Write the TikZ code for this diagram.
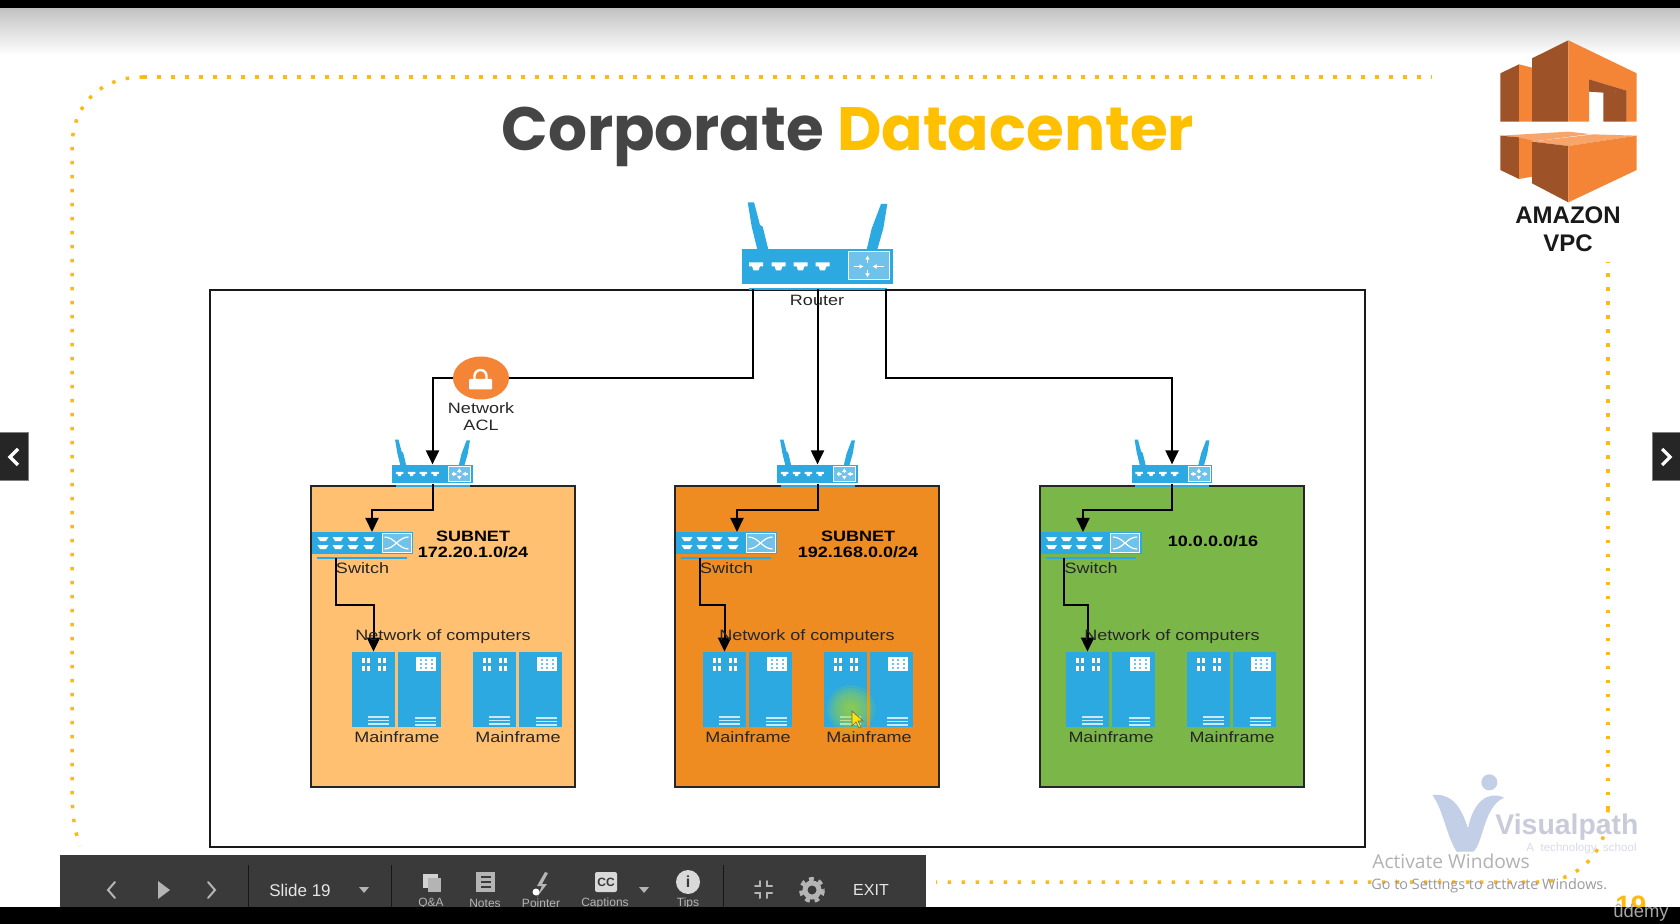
\documentclass[tikz,border=0pt]{standalone}
\usepackage{fontspec}
\setmainfont{Liberation Sans}
\newfontfamily\titlefont{Poppins}
\newfontfamily\winfont{Open Sans}
\usetikzlibrary{calc}
\usetikzlibrary{arrows.meta}
\usetikzlibrary{shapes.geometric}

\definecolor{netblue}{HTML}{2DA9E1}
\definecolor{panelblue}{HTML}{6FC2EA}
\definecolor{boxA}{HTML}{FFC171}
\definecolor{boxB}{HTML}{EE8C22}
\definecolor{boxC}{HTML}{7AB648}
\definecolor{awsdark}{HTML}{9D5227}
\definecolor{awslight}{HTML}{F58536}
\definecolor{awstop}{HTML}{F8A56B}
\definecolor{dotyellow}{HTML}{FDBA12}
\definecolor{ttlyellow}{HTML}{FFC000}
\definecolor{ttlgrey}{HTML}{454545}
\definecolor{barbg}{HTML}{3A3A3A}
\definecolor{baricon}{HTML}{B4B4B4}
\definecolor{vpshape}{HTML}{C3CFE6}
\definecolor{vptext}{HTML}{C9CBDB}
\definecolor{vpsub}{HTML}{D8DCEB}

\newcommand{\portshape}[3]{
    \fill[white] (#1-#3,#2-4) -- (#1+#3,#2-4) -- (#1+#3,#2) -- (#1+0.55*#3,#2) -- (#1+0.35*#3,#2+4) -- (#1-0.35*#3,#2+4) -- (#1-0.55*#3,#2) -- (#1-#3,#2) -- cycle;
}

\tikzset{
    wire/.style={draw=black,line width=1pt},
    wirearrow/.style={wire,-{Triangle[length=7pt,width=6.5pt]}},
    lbl/.style={font=\fontsize{7.5}{8.5}\selectfont,text=black!85,inner sep=0pt,align=center,xscale=1.2,transform shape},
    boldlbl/.style={lbl,font=\fontsize{7.5}{8}\selectfont\bfseries,text=black},
    groupbox/.style={draw=black!85,line width=1pt},
    bluebody/.style={fill=netblue,inner sep=0pt,transform shape},
    dotline/.style={draw=dotyellow,line width=1.75pt,dash pattern=on 1.75pt off 5.25pt},
    barlabel/.style={font=\fontsize{6}{7}\selectfont,text=baricon,inner sep=0pt},
    barrule/.style={draw=black!60!barbg,line width=0.5pt},
    baricn/.style={draw=baricon,line width=1pt,line cap=round},
    navbox/.style={fill=black!85,draw=black!50,line width=0.5pt},
    navmark/.style={draw=white,line width=1.6pt},
    router/.pic={
        \fill[netblue] (-69.8,-64.2) -- (-63.5,-64.2) -- (-57.5,-41.5) -- (-54.8,-39.8) -- (-49.2,-17) -- (-60.2,-17) -- (-65.8,-39.8) -- cycle;
        \fill[netblue] (63.5,-62.5) -- (69.8,-62.5) -- (65.8,-38) -- (59.8,-17) -- (49.2,-17) -- (54.2,-38) -- cycle;
        \node[bluebody,minimum width=75.5pt,minimum height=17.5pt] (-body) at (0,0) {};
        \portshape{-61.5}{0}{7}
        \portshape{-39}{0}{7}
        \portshape{-17}{0}{7}
        \portshape{5}{0}{7}
        \draw[white,fill=panelblue,line width=0.5pt] (30.5,-14.5) rectangle (71.5,13.5);
        \draw[white,line width=0.8pt,-{Latex[length=2pt,width=2.5pt]}] (50,-3.5) -- (50,-11);
        \draw[white,line width=0.8pt,-{Latex[length=2pt,width=2.5pt]}] (50,3.5) -- (50,11);
        \draw[white,line width=0.8pt,-{Latex[length=2pt,width=2.5pt]}] (36,0) -- (46,0);
        \draw[white,line width=0.8pt,-{Latex[length=2pt,width=2.5pt]}] (66,0) -- (55,0);
        \draw[netblue,line width=1pt] (-68.5,22.5) -- (69.5,22.5);
        \coordinate (-base) at (0,22.5);
    },
    switchbox/.pic={
        \node[bluebody,minimum width=50.5pt,minimum height=11pt] (-body) at (0,0) {};
        \foreach \px in {-39.5,-24.5,-9.5,6.5}{
            \fill[white] (\px-5.5,-6) -- (\px+5.5,-6) -- (\px+3,-2) -- (\px-3,-2) -- cycle;
            \fill[white] (\px-5.5,2) -- (\px+5.5,2) -- (\px+3,6) -- (\px-3,6) -- cycle;
        }
        \draw[white,fill=panelblue,line width=0.5pt] (19.5,-9) rectangle (48.5,9);
        \draw[white,line width=0.6pt] (22,-6) .. controls (32,-6) and (36,6) .. (46,6);
        \draw[white,line width=0.6pt] (22,6) .. controls (32,6) and (36,-6) .. (46,-6);
        \draw[netblue,line width=0.8pt] (-45.5,15) -- (44.5,15);
    },
    mainframe/.pic={
        \node[bluebody,minimum width=21.5pt,minimum height=37.5pt] (-a) at (21.5,37.5) {};
        \node[bluebody,minimum width=21.5pt,minimum height=37.5pt] (-b) at (67.5,37.5) {};
        \foreach \dx in {11,16,27,32}{
            \foreach \dy in {5.5,13.5}{
                \fill[white] (\dx-1.5,\dy) rectangle (\dx+1.5,\dy+5);
            }
        }
        \fill[white] (64,5) rectangle (84,19);
        \foreach \dx in {68.5,74,79.5}{
            \foreach \dy in {8,12,16}{
                \fill[panelblue] (\dx-1,\dy-1) rectangle (\dx+1,\dy+1);
            }
        }
        \foreach \dy in {65,68.5,72}{
            \fill[white!75!netblue] (16,\dy-1) rectangle (37,\dy+0.7);
            \fill[white!75!netblue] (63,\dy) rectangle (84,\dy+1.7);
        }
    }
}

\begin{document}
\begin{tikzpicture}[x=0.5pt,y=-0.5pt]
    \useasboundingbox (0,0) rectangle (1680,924);
    \fill[white] (0,0) rectangle (1680,924);
    \foreach \g in {0,...,46}{
        \pgfmathsetmacro{\gv}{24*(1-\g/47)}
        \fill[black!\gv] (0,8+\g) rectangle (1680,9.5+\g);
    }
    \fill[black] (0,0) rectangle (1680,8);

    \draw[dotline] (143,77) -- (1432,77);
    \draw[dotline] (143,77) .. controls (100,77) and (72,105) .. (72,148) -- (72,790) .. controls (72,810) and (74,830) .. (80,846);
    \draw[dotline] (1608,809) -- (1608,262);
    \draw[dotline] (1608,809) .. controls (1608,850) and (1580,882) .. (1538,882) -- (936,882);

    \node[anchor=base west,inner sep=0pt,font=\titlefont\fontsize{30.6}{36}\selectfont\bfseries,text=ttlgrey] (ttl) at (501,151) {Corporate \textcolor{ttlyellow}{Datacenter}};

    \begin{scope}[shift={(1440,20)},x=0.16667pt,y=-0.16667pt]
        \fill[awsdark] (181,160) -- (237,133) -- (237,305) -- (181,305) -- cycle;
        \fill[awslight] (237,133) -- (276,143) -- (276,305) -- (237,305) -- cycle;
        \fill[awsdark] (276,115) -- (385,61) -- (385,305) -- (276,305) -- cycle;
        \fill[awslight] (385,61) -- (590,160) -- (590,305) -- (560,305) -- (560,212) -- (447,178) -- (447,305) -- (385,305) -- cycle;
        \fill[awsdark] (447,178) -- (560,212) -- (490,218) -- (447,215) -- cycle;
        \fill[awsdark] (490,216) -- (560,212) -- (560,305) -- (490,305) -- cycle;
        \fill[awstop] (181,347) -- (385,335) -- (450,342) -- (276,365) -- (237,352) -- cycle;
        \fill[awsdark] (181,347) -- (237,352) -- (237,477) -- (181,450) -- cycle;
        \fill[awslight] (237,352) -- (276,362) -- (276,470) -- (237,477) -- cycle;
        \fill[awstop] (276,365) -- (460,343) -- (590,347) -- (385,378) -- cycle;
        \fill[awsdark] (276,365) -- (385,378) -- (385,547) -- (276,490) -- cycle;
        \fill[awslight] (385,378) -- (590,347) -- (590,450) -- (385,547) -- cycle;
    \end{scope}
    \node[font=\fontsize{12}{14}\selectfont\bfseries,text=black!90,inner sep=0pt] (vpcA) at (1568,215) {AMAZON};
    \node[font=\fontsize{12}{14}\selectfont\bfseries,text=black!90,inner sep=0pt] (vpcB) at (1568,243) {VPC};

    \begin{scope}[shift={(1340,760)},x=0.16667pt,y=-0.16667pt]
        \fill[vpshape] (277,105) .. controls (320,100) and (360,120) .. (385,210) .. controls (390,250) and (380,275) .. (350,275) .. controls (320,230) and (310,150) .. (277,105) -- cycle;
        \fill[vpshape] (492,113) .. controls (440,90) and (400,130) .. (385,200) .. controls (375,250) and (365,265) .. (350,275) -- (400,275) .. controls (430,250) and (430,140) .. (492,113) -- cycle;
        \fill[vpshape] (448,67) circle (24);
    \end{scope}
    \node[anchor=base west,inner sep=0pt,font=\fontsize{14.2}{16}\selectfont\bfseries,text=vptext] (vpath) at (1495,834) {Visualpath};
    \node[anchor=base east,inner sep=0pt,font=\fontsize{5.8}{6}\selectfont,text=vpsub] (vpathsub) at (1637,851) {A\ \ technology\ \ school};

    \draw[groupbox,fill=white,draw=black!90] (210,290.5) rectangle (1365,847);

    \foreach \nm/\bx/\rx/\sx/\mx/\ax/\ox/\clr in {A/311/432.5/362.5/352/372/336/boxA,B/675/817.5/726.5/703/737/700/boxB,C/1040/1172/1091/1066/1083/1064/boxC}{
        \draw[groupbox,fill=\clr] (\bx,486) rectangle (\bx+264,787);
        \pic[scale=0.536] (rt\nm) at (\rx,474) {router};
        \pic (sw\nm) at (\sx,543) {switchbox};
        \pic (mf\nm) at (\mx,652) {mainframe};
        \pic (mg\nm) at (\mx+121,652) {mainframe};
        \coordinate (in\nm) at (\ax,532);
        \coordinate (tap\nm) at (\ox,558);
        \draw[wirearrow] (rt\nm-body.south) -- ++(0,26) -| (in\nm);
        \draw[wirearrow] (tap\nm) -- ++(0,47) -| (mf\nm-a.north);
        \node[lbl] (sl\nm) at (\sx,568) {Switch};
        \node[lbl] (nc\nm) at (\bx+132,636.5) {Network of computers};
        \node[lbl] (ml\nm) at (\mx+45,737) {Mainframe};
        \node[lbl] (mk\nm) at (\mx+166,737) {Mainframe};
    }
    \node[boldlbl] (snA) at (473,544) {SUBNET\\172.20.1.0/24};
    \node[boldlbl] (snB) at (858,544) {SUBNET\\192.168.0.0/24};
    \node[boldlbl] (snC) at (1213,541) {10.0.0.0/16};

    \pic (rtMain) at (817.5,266.5) {router};
    \node[ellipse,fill=awslight,inner sep=0pt,minimum width=28pt,minimum height=21.5pt] (acl) at (481,378) {};
    \draw[white,line width=1.2pt] (474.5,380) -- (474.5,376) arc (180:360:6) -- (486.5,380);
    \fill[white,rounded corners=0.5pt] (469,379) rectangle (492,389.5);
    \node[lbl] (aclt) at (481,417) {Network\\ACL};

    \coordinate (turnC) at (1172,378);
    \draw[wire] ($(rtMain-base)+(-64.5,0)$) |- (acl.east);
    \draw[wirearrow] (acl.west) -| (rtA-body.north);
    \draw[wirearrow] (rtMain-base) -- (rtB-body.north);
    \draw[wirearrow] ($(rtMain-base)+(68.5,0)$) |- (turnC) -- (rtC-body.north);
    \node[lbl] (rtlbl) at (817,300.5) {Router};

    \foreach \r in {24,21,...,6}{
        \fill[yellow!70!green,opacity=0.14] (851,709) circle (\r);
    }
    \draw[black!60,fill=yellow!85!orange,line width=0.3pt] (852,711) -- (852,726) -- (856,722) -- (859,728) -- (861,727) -- (858,721) -- (863,721) -- cycle;

    \node[anchor=base west,inner sep=0pt,font=\winfont\fontsize{9.6}{12}\selectfont,text=black!30] (actA) at (1372,868) {Activate Windows};
    \node[anchor=base west,inner sep=0pt,font=\winfont\fontsize{7.2}{9}\selectfont,text=black!40] (actB) at (1371,889) {Go to Settings to activate Windows.};

    \node[anchor=base west,inner sep=0pt,font=\fontsize{14}{16}\selectfont\bfseries,text=dotyellow] (pagenum) at (1615,915) {19};

    \fill[barbg] (60,855) rectangle (926,907);
    \foreach \sx in {248,391,723}{
        \draw[barrule] (\sx,865) -- (\sx,907);
    }
    \draw[baricn] (115,882) -- (108,890) -- (115,898);
    \fill[baricon] (158,881) -- (170,890) -- (158,899) -- cycle;
    \draw[baricn] (208,882) -- (215,890) -- (208,898);
    \node[font=\fontsize{8.5}{10}\selectfont,text=black!10,inner sep=0pt] (slidenum) at (300,890) {Slide 19};
    \fill[baricon] (359,887) -- (369,887) -- (364,893) -- cycle;
    \fill[baricon] (639,887) -- (649,887) -- (644,893) -- cycle;

    \fill[baricon!60] (423,874) rectangle (438,888);
    \fill[baricon] (428,878) rectangle (441,892);
    \fill[baricon] (476,872) rectangle (495,892);
    \foreach \ly in {877,882,887}{
        \draw[barbg,line width=0.6pt] (481,\ly) -- (491,\ly);
    }
    \fill[baricon] (545,872) -- (537,886) -- (542,886) -- (537,897) -- (547,884) -- (542,884) -- (548,873) -- cycle;
    \fill[white] (536,892) circle (3.5);
    \fill[black!15,rounded corners=1pt] (595,872) rectangle (617,892);
    \node[font=\fontsize{6}{7}\selectfont\bfseries,text=barbg,inner sep=0pt] (cctag) at (606,882) {CC};
    \fill[black!15] (688,882) circle (12);
    \node[font=\fontsize{8}{9}\selectfont\bfseries,text=barbg,inner sep=0pt] (tipi) at (688,882) {i};
    \draw[baricn] (755,886) -- (760,886) -- (760,881);
    \draw[baricn] (772,886) -- (767,886) -- (767,881);
    \draw[baricn] (755,893) -- (760,893) -- (760,898);
    \draw[baricn] (772,893) -- (767,893) -- (767,898);
    \draw[baricon,line width=3pt,dash pattern=on 2.2pt off 2.2pt] (812,890) circle (10);
    \draw[baricon,line width=2.5pt] (812,890) circle (7);
    \node[font=\fontsize{8}{10}\selectfont,text=black!10,inner sep=0pt] (exitlbl) at (871,890) {EXIT};
    \foreach \nm/\lx/\ltx in {qa/431/Q\&A,notes/485/Notes,ptr/541/Pointer,cap/605/Captions,tips/688/Tips}{
        \node[barlabel] (bl\nm) at (\lx,903.5) {\ltx};
    }

    \fill[black] (0,907) rectangle (1680,924);
    \node[anchor=base west,inner sep=0pt,font=\fontsize{9.2}{11}\selectfont,text=black!35] (udemy) at (1613,917) {ûdemy};

    \fill[navbox] (-1,433) rectangle (28,481);
    \draw[navmark] (18,449) -- (10,457) -- (18,465);
    \fill[navbox] (1652,433) rectangle (1681,481);
    \draw[navmark] (1662,449) -- (1670,457) -- (1662,465);
\end{tikzpicture}
\end{document}
